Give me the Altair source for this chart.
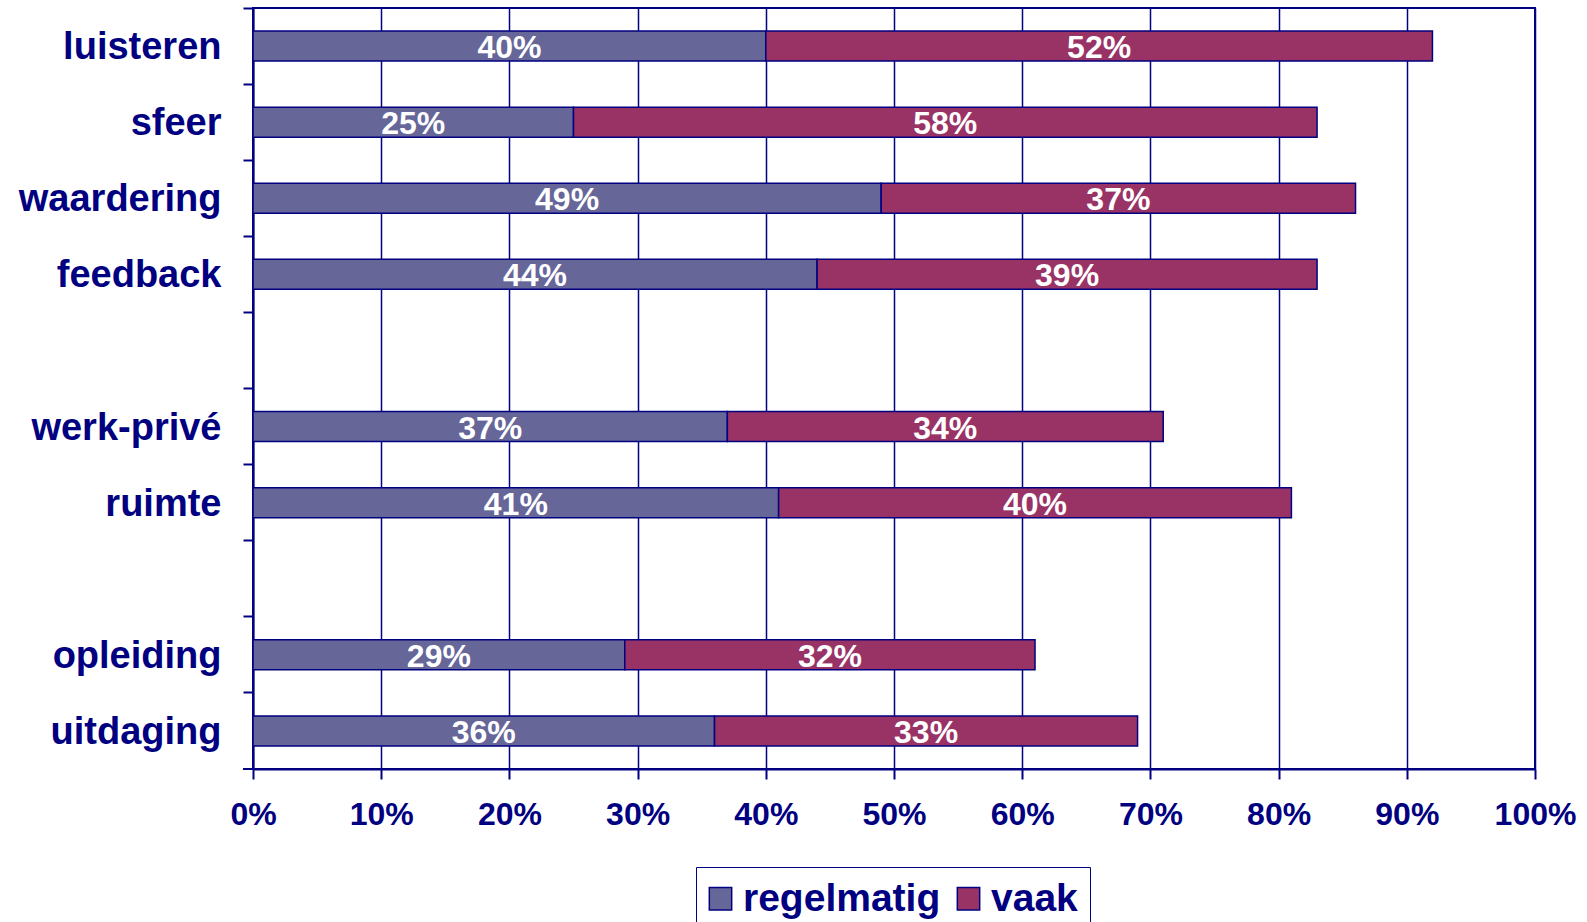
import altair as alt
import pandas as pd

categories = ["luisteren", "sfeer", "waardering", "feedback", "werk-privé", "ruimte", "opleiding", "uitdaging"]
regelmatig = [40, 25, 49, 44, 37, 41, 29, 36]
vaak = [52, 58, 37, 39, 34, 40, 32, 33]
axis_order = ["luisteren", "sfeer", "waardering", "feedback", "_gap1", "werk-privé", "ruimte", "_gap2", "opleiding", "uitdaging"]
series = ["regelmatig", "vaak"]
colors = ["#666699", "#993366"]
x_ticks = [0, 0.1, 0.2, 0.3, 0.4, 0.5, 0.6, 0.7, 0.8, 0.9, 1.0]

rows = []
for c, r, v in zip(categories, regelmatig, vaak):
    rows.append({"cat": c, "series": "regelmatig", "value": r / 100, "order": 0})
    rows.append({"cat": c, "series": "vaak", "value": v / 100, "order": 1})
df = pd.DataFrame(rows)

NAVY = "#000080"
FONT = "Liberation Sans"

base = alt.Chart(df).transform_stack(
    stack="value", as_=["x0", "x1"], groupby=["cat"],
    sort=[alt.SortField(field="order", order="ascending")]
).transform_calculate(
    mid="(datum.x0 + datum.x1) / 2",
    lab="format(datum.value, '.0%')"
)

y_enc = alt.Y(
    "cat:N",
    sort=axis_order,
    scale=alt.Scale(domain=axis_order, paddingInner=0, paddingOuter=0),
    axis=alt.Axis(
        title=None, bandPosition=0,
        labelExpr="indexof(datum.label, '_gap') == 0 ? '' : datum.label",
        labelFont=FONT, labelFontSize=38, labelFontWeight="bold", labelColor=NAVY,
        labelPadding=22, labelLimit=400, labelOffset=2,
        tickSize=10, tickColor=NAVY, tickWidth=2,
        domainColor=NAVY, domainWidth=2, grid=False,
    ),
)

bars = base.mark_bar(size=30, stroke=NAVY, strokeWidth=1.5).encode(
    y=y_enc,
    x=alt.X(
        "x0:Q",
        scale=alt.Scale(domain=[0, 1], nice=False),
        axis=alt.Axis(
            title=None, values=x_ticks, format=".0%",
            labelFont=FONT, labelFontSize=32, labelFontWeight="bold", labelColor=NAVY,
            labelPadding=20, labelFlush=False,
            tickSize=10, tickColor=NAVY, tickWidth=2,
            domainColor=NAVY, domainWidth=2,
            grid=True, gridColor=NAVY, gridWidth=1.5,
        ),
    ),
    x2="x1:Q",
    color=alt.Color(
        "series:N",
        scale=alt.Scale(domain=series, range=colors),
        legend=alt.Legend(
            title=None, orient="none", legendX=443, legendY=859,
            direction="horizontal",
            labelFont=FONT, labelFontSize=39, labelFontWeight="bold", labelColor=NAVY,
            labelLimit=400, labelOffset=3, columnPadding=13,
            symbolType="square", symbolSize=500, symbolOffset=-7,
            symbolStrokeColor=NAVY, symbolStrokeWidth=1.5,
            strokeColor=NAVY, fillColor="white", padding=12,
        ),
    ),
)

text = base.mark_text(color="white", font=FONT, fontSize=32, fontWeight="bold", dy=2).encode(
    y=alt.Y("cat:N", sort=axis_order),
    x=alt.X("mid:Q"),
    text="lab:N",
)

end_tick = alt.Chart(pd.DataFrame({"k": [0]})).mark_rule(color=NAVY, strokeWidth=2).encode(
    x=alt.value(-10), x2=alt.value(0), y=alt.value(761)
)

chart = alt.layer(bars, text, end_tick).properties(
    width=1282, height=761,
    autosize=alt.AutoSizeParams(type="none"),
    padding={"left": 253, "top": 8, "right": 52, "bottom": 153},
).configure(font=FONT).configure_view(stroke=NAVY, strokeWidth=2)

chart.save("out.html", embed_options={"renderer": "svg", "actions": False})
